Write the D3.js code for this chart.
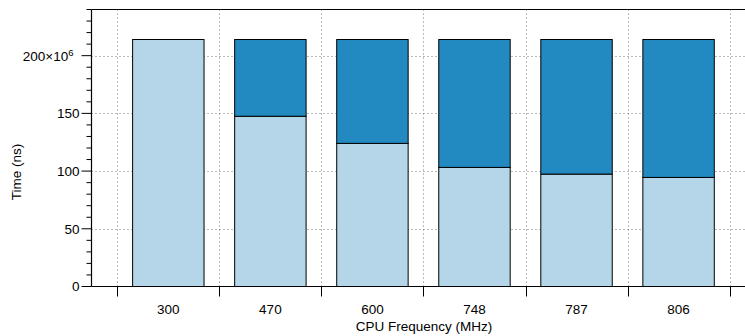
<!DOCTYPE html>
<html>
<head>
<meta charset="utf-8">
<script src="https://cdn.jsdelivr.net/npm/d3@7/dist/d3.min.js"></script>
<style>
  html, body { margin: 0; padding: 0; background: #fff; }
  svg { display: block; }
  svg text { font-family: 'Liberation Sans', Arial, sans-serif; }
</style>
</head>
<body>
<svg id="chart" width="745" height="336"></svg>
<script>
// ---- data (values in 10^6 ns) ----
const categories = ["300", "470", "600", "748", "787", "806"];
const baseValues = [214, 147.5, 124, 103.2, 97.4, 94.5];
const extraValues = [0, 66.5, 90, 110.8, 116.6, 119.5];
const yTickValues = [0, 50, 100, 150, 200];
const yTickLabels = ["0", "50", "100", "150", "200×10"];
const xTitle = "CPU Frequency (MHz)";
const yTitle = "Time (ns)";

const svg = d3.select("#chart");
const W = 745, H = 336;
const pLeft = 91.5, pTop = 9.5, pBottom = 286.5;
const FONT = "'Liberation Sans', Arial, sans-serif";

const y = d3.scaleLinear().domain([0, 240]).range([pBottom, pTop]);
const x = d3.scaleBand().domain(categories).range([117.3, 729.6])
  .paddingInner(0.3).paddingOuter(0.15);
const step = x.step();
const boundaries = categories.map(c => x(c) - x.paddingOuter() * step);
boundaries.push(x(categories[categories.length - 1]) + x.bandwidth() + x.paddingOuter() * step);

// grid lines
const grid = svg.append("g").attr("stroke", "#777").attr("stroke-width", 1)
  .attr("stroke-dasharray", "1,3");
grid.selectAll("line.v").data(boundaries).join("line").attr("class", "v")
  .attr("x1", d => Math.round(d) + 0.5).attr("x2", d => Math.round(d) + 0.5)
  .attr("y1", pTop).attr("y2", pBottom);
grid.selectAll("line.h").data(yTickValues.filter(v => v > 0)).join("line").attr("class", "h")
  .attr("x1", pLeft).attr("x2", W)
  .attr("y1", d => Math.round(y(d)) + 0.5).attr("y2", d => Math.round(y(d)) + 0.5);

// bars
const rows = categories.map((c, i) => ({ c, base: baseValues[i], extra: extraValues[i] }));
const bars = svg.append("g").attr("stroke", "#000").attr("stroke-width", 1);
bars.selectAll("rect.base").data(rows).join("rect").attr("class", "base")
  .attr("x", d => x(d.c)).attr("width", x.bandwidth())
  .attr("y", d => y(d.base)).attr("height", d => y(0) - y(d.base))
  .attr("fill", "#b4d6e8");
bars.selectAll("rect.extra").data(rows.filter(d => d.extra > 0)).join("rect").attr("class", "extra")
  .attr("x", d => x(d.c)).attr("width", x.bandwidth())
  .attr("y", d => y(d.base + d.extra)).attr("height", d => y(d.base) - y(d.base + d.extra))
  .attr("fill", "#228ac1");

// frame top line
svg.append("line").attr("x1", pLeft).attr("x2", W).attr("y1", pTop).attr("y2", pTop)
  .attr("stroke", "#000").attr("stroke-width", 1.2);

// y axis
const yAxis = svg.append("g").attr("transform", `translate(${pLeft},0)`);
yAxis.append("line").attr("x1", 0).attr("x2", 0).attr("y1", pTop).attr("y2", pBottom)
  .attr("stroke", "#000").attr("stroke-width", 1.2);
const minor = d3.range(0, 241, 10).filter(v => !yTickValues.includes(v));
yAxis.selectAll("line.minor").data(minor).join("line").attr("class", "minor")
  .attr("x1", -5).attr("x2", 0).attr("y1", d => y(d)).attr("y2", d => y(d))
  .attr("stroke", "#000").attr("stroke-width", 1);
yAxis.selectAll("line.major").data(yTickValues).join("line").attr("class", "major")
  .attr("x1", -10).attr("x2", 0).attr("y1", d => y(d)).attr("y2", d => y(d))
  .attr("stroke", "#000").attr("stroke-width", 1);
const yl = yAxis.selectAll("text").data(yTickValues).join("text")
  .attr("x", (d, i) => i === yTickValues.length - 1 ? -18 : -12)
  .attr("y", d => y(d)).attr("dy", "0.36em")
  .attr("text-anchor", "end").attr("font-size", 13.5).attr("font-family", FONT).attr("fill", "#000")
  .text((d, i) => yTickLabels[i]);
yl.filter((d, i) => i === yTickValues.length - 1)
  .append("tspan").attr("font-size", 9.5).attr("dy", "-0.5em").text("6");

// x axis
const xAxis = svg.append("g");
xAxis.append("line").attr("x1", pLeft).attr("x2", W).attr("y1", pBottom).attr("y2", pBottom)
  .attr("stroke", "#000").attr("stroke-width", 1.2);
xAxis.selectAll("line.tick").data(boundaries).join("line").attr("class", "tick")
  .attr("x1", d => Math.round(d) + 0.5).attr("x2", d => Math.round(d) + 0.5)
  .attr("y1", pBottom).attr("y2", pBottom + 10)
  .attr("stroke", "#000").attr("stroke-width", 1);
xAxis.selectAll("text").data(categories).join("text")
  .attr("x", d => x(d) + x.bandwidth() / 2).attr("y", 314)
  .attr("text-anchor", "middle").attr("font-size", 13.5).attr("font-family", FONT).attr("fill", "#000")
  .text(d => d);

// titles
svg.append("text").attr("x", 424).attr("y", 331).attr("text-anchor", "middle")
  .attr("font-size", 13.5).attr("font-family", FONT).text(xTitle);
svg.append("text").attr("transform", "translate(21,172) rotate(-90)")
  .attr("text-anchor", "middle").attr("font-size", 13.5).attr("font-family", FONT).text(yTitle);
</script>
</body>
</html>
